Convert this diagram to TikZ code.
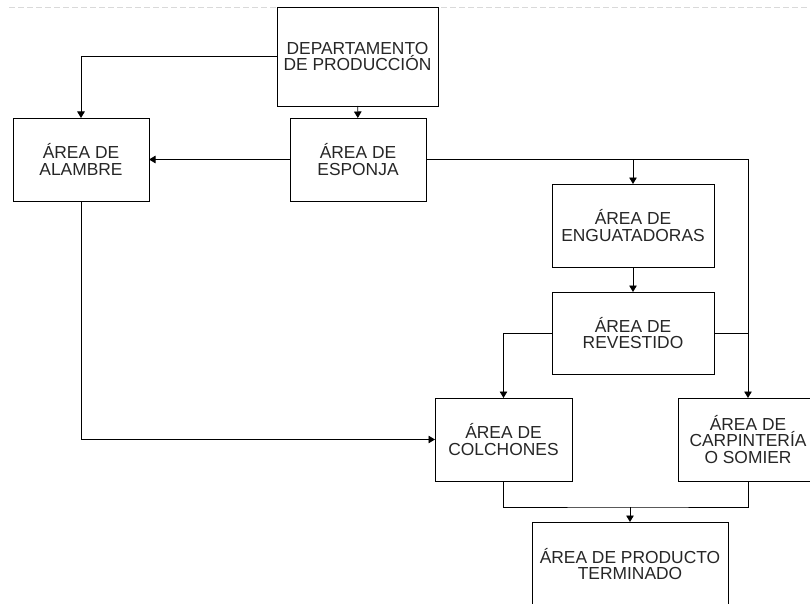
\documentclass[tikz,border=0pt]{standalone}
\usepackage{fontspec}
\setmainfont{Liberation Sans}
\usepackage{tikz}
\usetikzlibrary{arrows.meta}

\begin{document}
\begin{tikzpicture}[x=1pt, y=-1pt,
  box/.style={draw=black, line width=0.9pt, minimum height=83pt, outer sep=0pt, inner sep=2pt,
    align=center, text=black!85, font=\fontsize{17.4}{16.4}\selectfont},
  link/.style={draw=black, line width=0.9pt},
  arr/.style={link, -{Triangle[length=6.5pt, width=7.5pt]}}]
\useasboundingbox (0,0) rectangle (810,604);
\draw[black!15, line width=0.8pt, dash pattern=on 6pt off 3pt] (9,7) -- (810,7);

\node[box, minimum width=161pt, minimum height=99pt] (dep) at (357.5,56.5) {DEPARTAMENTO\\DE PRODUCCIÓN};
\node[box, minimum width=136pt] (alambre) at (81,159.5) {ÁREA DE\\ALAMBRE};
\node[box, minimum width=136pt] (esponja) at (358,159.5) {ÁREA DE\\ESPONJA};
\node[box, minimum width=162pt] (engua) at (633,225.5) {ÁREA DE\\ENGUATADORAS};
\node[box, minimum width=162pt, minimum height=82pt] (revest) at (633,333) {ÁREA DE\\REVESTIDO};
\node[box, minimum width=137pt] (colch) at (503.5,439.5) {ÁREA DE\\COLCHONES};
\node[box, minimum width=140pt] (carp) at (748,439.5) {ÁREA DE\\CARPINTERÍA\\O SOMIER};
\node[box, minimum width=196pt, minimum height=84pt] (prod) at (630,564) {ÁREA DE PRODUCTO\\TERMINADO};
\coordinate (merge) at (630,507);

\draw[arr] (dep.west) -| (alambre.north);
\draw[arr] (dep) -- (esponja);
\draw[arr] (esponja.west) -- (alambre.east);
\draw[arr] (esponja.east) -| (carp.north);
\draw[arr] (engua.north |- esponja.east) -- (engua.north);
\draw[arr] (engua) -- (revest);
\draw[arr] (revest.west) -| (colch.north);
\draw[link] (revest.east) -- (revest.east -| carp.north);
\draw[arr] (alambre.south) |- (colch.west);
\draw[link] (colch.south) |- (merge) -| (carp.south);
\draw[arr] (merge) -- (prod.north);
\end{tikzpicture}
\end{document}
